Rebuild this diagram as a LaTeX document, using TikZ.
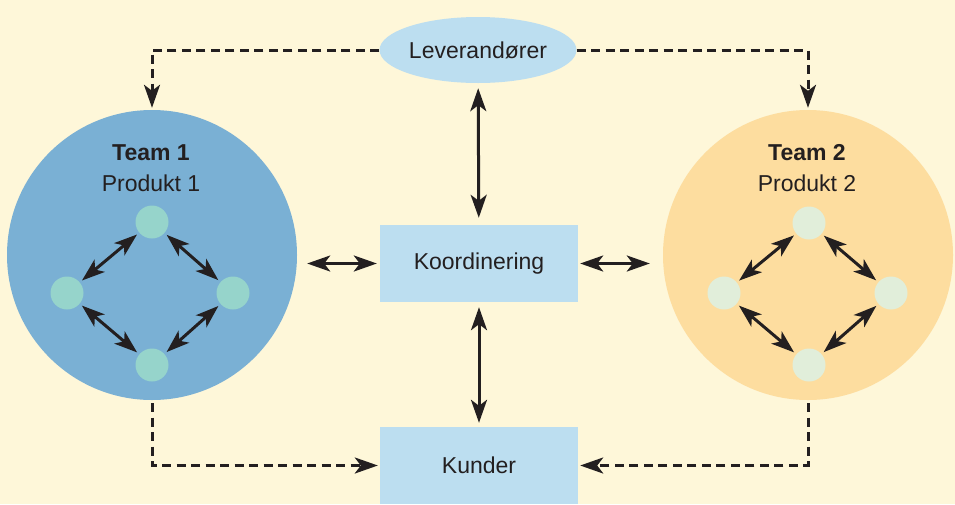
\documentclass[tikz,border=0pt]{standalone}
\usepackage{fontspec}
\setmainfont{Liberation Sans}
\usetikzlibrary{arrows.meta,shapes.geometric}
\definecolor{bgcream}{HTML}{FEF7D9}
\definecolor{teamblue}{HTML}{7AB0D4}
\definecolor{memberteal}{HTML}{96D4CB}
\definecolor{teamorange}{HTML}{FDDD9F}
\definecolor{memberpale}{HTML}{E1EEDA}
\definecolor{boxblue}{HTML}{BCDEF0}
\definecolor{ink}{HTML}{231F20}
\tikzset{
  bigtip/.tip={Stealth[length=23pt,width=16pt,inset=6pt]},
  link/.style={draw=ink,line width=3pt,bigtip-bigtip},
  flow/.style={draw=ink,line width=3pt,dash pattern=on 9pt off 5.5pt,-bigtip},
  teamcircle/.style={circle,minimum size=290pt,inner sep=0pt},
  member/.style={circle,minimum size=33pt,inner sep=0pt,outer sep=3pt},
  unitbox/.style={rectangle,fill=boxblue,minimum width=198pt,inner sep=0pt,text=ink},
  lbl/.style={text=ink,font=\fontsize{23}{27}\selectfont}
}
\begin{document}
\begin{tikzpicture}[x=1pt,y=-1pt]
\fill[bgcream] (0,0) rectangle (955,504);
\useasboundingbox (0,0) rectangle (955,504);

% teams
\node[teamcircle,fill=teamblue] (t1) at (152,255) {};
\node[teamcircle,fill=teamorange] (t2) at (808,255) {};
\node[lbl,font=\fontsize{23}{27}\selectfont\bfseries] (t1name) at (151,153) {Team 1};
\node[lbl] (t1prod) at (151,183) {Produkt 1};
\node[lbl,font=\fontsize{23}{27}\selectfont\bfseries] (t2name) at (807,153) {Team 2};
\node[lbl] (t2prod) at (807,183) {Produkt 2};

% team members
\node[member,fill=memberteal] (a1) at (152,222) {};
\node[member,fill=memberteal] (a2) at (67,293) {};
\node[member,fill=memberteal] (a3) at (233,293) {};
\node[member,fill=memberteal] (a4) at (152,365) {};
\node[member,fill=memberpale] (b1) at (809,223) {};
\node[member,fill=memberpale] (b2) at (724,293) {};
\node[member,fill=memberpale] (b3) at (891,293) {};
\node[member,fill=memberpale] (b4) at (809,365) {};

\foreach \p in {a,b}{
  \draw[link] (\p1) -- (\p2);
  \draw[link] (\p1) -- (\p3);
  \draw[link] (\p2) -- (\p4);
  \draw[link] (\p3) -- (\p4);
}

% supplier, coordination, customers
\node[ellipse,fill=boxblue,minimum width=197pt,minimum height=66pt,inner sep=0pt,lbl] (lev) at (478,50) {Leverandører};
\node[unitbox,minimum height=77pt,lbl] (koord) at (479,263.5) {Koordinering};
\node[unitbox,minimum height=77pt,lbl] (kunder) at (479,465.5) {Kunder};

\draw[link,shorten <=5pt,shorten >=7pt] (lev) -- (koord);
\draw[link,shorten <=5pt,shorten >=4pt] (koord) -- (kunder);
\draw[link,shorten <=10pt,shorten >=3pt] (t1.east |- koord) -- (koord.west);
\draw[link,shorten <=2pt,shorten >=13pt] (koord.east) -- (t2.west |- koord);

% dashed flows
\draw[flow,shorten >=2pt] (lev.west) -| (t1.north);
\draw[flow,shorten >=2pt] (lev.east) -| (t2.north);
\draw[flow,shorten <=3pt,shorten >=2pt] (t1.south) |- (kunder.west);
\draw[flow,shorten <=3pt,shorten >=2pt] (t2.south) |- (kunder.east);
\end{tikzpicture}
\end{document}
